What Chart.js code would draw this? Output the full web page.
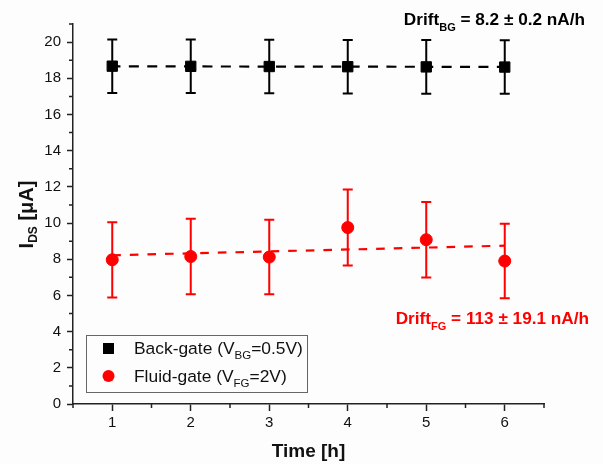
<!DOCTYPE html>
<html>
<head>
<meta charset="utf-8">
<script src="https://cdn.jsdelivr.net/npm/chart.js@4.4.1/dist/chart.umd.min.js"></script>
<style>
  html,body{margin:0;padding:0;background:#fff}
  canvas{display:block}
</style>
</head>
<body>
<canvas id="driftChart" width="603" height="464"></canvas>
<script>
// valores (I_DS en µA, tiempo en h)
const hours     = [1, 2, 3, 4, 5, 6];
const bgCurrent = [18.67, 18.66, 18.65, 18.64, 18.63, 18.62];
const bgErr     = [1.48, 1.48, 1.48, 1.48, 1.48, 1.48];
const fgCurrent = [7.97, 8.15, 8.12, 9.75, 9.08, 7.9];
const fgErr     = [2.08, 2.09, 2.06, 2.1, 2.09, 2.06];
// rectas de ajuste (extremos en t=1 y t=6)
const fitHours  = [1, 6];
const bgFit     = [18.66, 18.63];
const fgFit     = [8.22, 8.75];
// ejes
const xMajor = [1, 2, 3, 4, 5, 6];
const xMinor = [0.5, 1.5, 2.5, 3.5, 4.5, 5.5, 6.5];
const yMajor = [0, 2, 4, 6, 8, 10, 12, 14, 16, 18, 20];
const yMinor = [1, 3, 5, 7, 9, 11, 13, 15, 17, 19, 21];
// textos con subíndice: [texto, esSub]
const legendBG = [['Back-gate (V', false], ['BG', true], ['=0.5V)', false]];
const legendFG = [['Fluid-gate (V', false], ['FG', true], ['=2V)', false]];
const driftBG  = [['Drift', false], ['BG', true], [' = 8.2 \u00b1 0.2 nA/h', false]];
const driftFG  = [['Drift', false], ['FG', true], [' = 113 \u00b1 19.1 nA/h', false]];
const yTitle   = [['I', false], ['DS', true], [' [\u03bcA]', false]];

const FONT = '"Liberation Sans", Arial, sans-serif';
const RED = '#ff0000', INK = '#111';

// dibuja un texto con partes en subíndice; align: 'left' | 'right' | 'center'
function richText(ctx, parts, x, y, size, subSize, subDrop, weight, align){
  const fMain = `${weight} ${size}px ${FONT}`, fSub = `${weight} ${subSize}px ${FONT}`;
  let w = 0;
  parts.forEach(([t, sub]) => { ctx.font = sub ? fSub : fMain; w += ctx.measureText(t).width; });
  let cx = align === 'right' ? x - w : align === 'center' ? x - w / 2 : x;
  ctx.textAlign = 'left'; ctx.textBaseline = 'alphabetic';
  parts.forEach(([t, sub]) => {
    ctx.font = sub ? fSub : fMain;
    ctx.fillText(t, cx, sub ? y + subDrop : y);
    cx += ctx.measureText(t).width;
  });
}

const errorBars = {
  id: 'errorBars',
  beforeDatasetsDraw(chart){
    const {ctx, scales:{x, y}} = chart;
    const sets = [[bgCurrent, bgErr, '#000'], [fgCurrent, fgErr, RED]];
    ctx.save();
    ctx.lineWidth = 2;
    sets.forEach(([vals, errs, col]) => {
      ctx.strokeStyle = col;
      hours.forEach((h, i) => {
        const px = x.getPixelForValue(h);
        const top = y.getPixelForValue(vals[i] + errs[i]);
        const bot = y.getPixelForValue(vals[i] - errs[i]);
        ctx.beginPath();
        ctx.moveTo(px, top); ctx.lineTo(px, bot);
        ctx.moveTo(px - 5, top); ctx.lineTo(px + 5, top);
        ctx.moveTo(px - 5, bot); ctx.lineTo(px + 5, bot);
        ctx.stroke();
      });
    });
    ctx.restore();
  }
};

const extras = {
  id: 'extras',
  beforeDraw(chart){
    const {ctx, width, height} = chart;
    ctx.save(); ctx.fillStyle = '#fdfdfd'; ctx.fillRect(0, 0, width, height); ctx.restore();
  },
  afterDraw(chart){
    const {ctx, scales:{x, y}, chartArea:a} = chart;
    ctx.save();
    // ticks menores
    ctx.strokeStyle = '#222'; ctx.lineWidth = 1.5;
    ctx.beginPath();
    xMinor.forEach(v => { const p = x.getPixelForValue(v); ctx.moveTo(p, a.bottom); ctx.lineTo(p, a.bottom + 4); });
    yMinor.forEach(v => { const p = y.getPixelForValue(v); ctx.moveTo(a.left, p); ctx.lineTo(a.left - 4, p); });
    ctx.stroke();

    // título eje Y (rotado, con subíndice)
    ctx.fillStyle = INK;
    ctx.save();
    ctx.translate(33, (a.top + a.bottom) / 2 + 0.5);
    ctx.rotate(-Math.PI / 2);
    richText(ctx, yTitle, 0, 0, 20, 12, 4, 'bold', 'center');
    ctx.restore();

    // anotaciones de drift
    ctx.fillStyle = '#000';
    richText(ctx, driftBG, 585, 25, 17.2, 11, 6, 'bold', 'right');
    ctx.fillStyle = RED;
    richText(ctx, driftFG, 589, 324, 17.2, 11, 6, 'bold', 'right');

    // leyenda
    ctx.strokeStyle = '#666'; ctx.lineWidth = 1;
    ctx.strokeRect(86.5, 335.5, 221, 57);
    ctx.fillStyle = '#000';
    ctx.fillRect(103, 343, 11, 11);
    ctx.fillStyle = RED;
    ctx.beginPath(); ctx.arc(108.5, 376, 6, 0, Math.PI * 2); ctx.fill();
    ctx.fillStyle = INK;
    richText(ctx, legendBG, 134, 353.5, 17.4, 11.5, 5, 'normal', 'left');
    richText(ctx, legendFG, 134, 381.5, 17.4, 11.5, 5, 'normal', 'left');
    ctx.restore();
  }
};

const tickFont = {family: FONT, size: 15};

new Chart(document.getElementById('driftChart').getContext('2d'), {
  type: 'scatter',
  data: {datasets: [
    {label: 'ajusteBG', type: 'line', order: 2, data: fitHours.map((h, i) => ({x: h, y: bgFit[i]})),
     borderColor: '#000', borderWidth: 2.2, borderDash: [10, 8.4], borderDashOffset: 1.8, pointRadius: 0, fill: false},
    {label: 'ajusteFG', type: 'line', order: 2, data: fitHours.map((h, i) => ({x: h, y: fgFit[i]})),
     borderColor: RED, borderWidth: 2.2, borderDash: [8.6, 9], pointRadius: 0, fill: false},
    {label: 'Back-gate', order: 0, data: hours.map((h, i) => ({x: h, y: bgCurrent[i]})),
     pointStyle: 'rect', pointRadius: 7.3, backgroundColor: '#000', borderColor: '#000', borderWidth: 1},
    {label: 'Fluid-gate', order: 0, data: hours.map((h, i) => ({x: h, y: fgCurrent[i]})),
     pointStyle: 'circle', pointRadius: 6, backgroundColor: RED, borderColor: RED, borderWidth: 1},
  ]},
  options: {
    responsive: false, animation: false, devicePixelRatio: 1,
    layout: {padding: {left: 0, right: 59, top: 24, bottom: 0}},
    plugins: {legend: {display: false}, tooltip: {enabled: false}},
    scales: {
      x: {type: 'linear', min: 0.5, max: 6.5,
          afterBuildTicks: s => { s.ticks = xMajor.map(v => ({value: v})); },
          afterFit: s => { s.height = 60; },
          grid: {drawOnChartArea: false, tickLength: 7, tickColor: '#222', tickWidth: 1.5},
          border: {color: '#222', width: 1.5},
          ticks: {font: tickFont, color: INK, padding: 3, maxRotation: 0},
          title: {display: true, text: 'Time [h]', color: INK, font: {family: FONT, size: 19, weight: 'bold'}, padding: {top: 0, bottom: 1}}},
      y: {type: 'linear', min: 0, max: 21,
          afterBuildTicks: s => { s.ticks = yMajor.map(v => ({value: v})); },
          afterFit: s => { s.width = 73; },
          grid: {drawOnChartArea: false, tickLength: 6, tickColor: '#222', tickWidth: 1.5},
          border: {color: '#222', width: 1.5},
          ticks: {font: tickFont, color: INK, padding: 6}}
    }
  },
  plugins: [errorBars, extras]
});
</script>
</body>
</html>
